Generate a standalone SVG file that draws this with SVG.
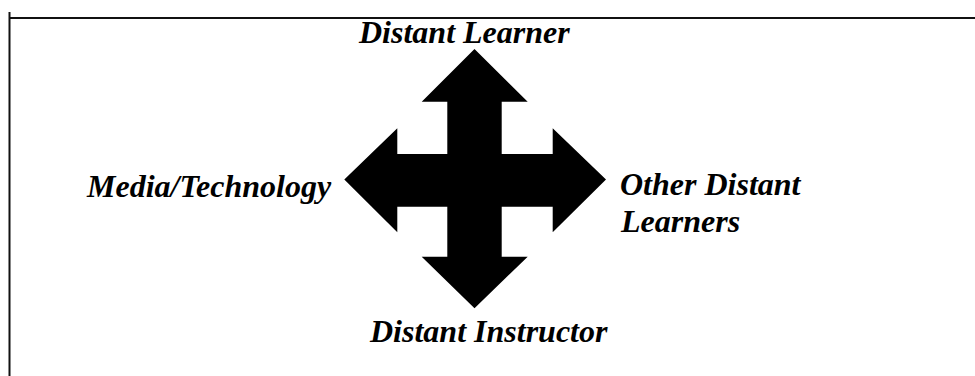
<svg xmlns="http://www.w3.org/2000/svg" width="975" height="376" viewBox="0 0 975 376">
<style>
.lbl{font-family:"Liberation Serif","Times New Roman",serif;font-weight:bold;font-style:italic;font-size:32px;fill:#000}
.frame{stroke:#111;stroke-width:2;fill:none}
</style>
<rect width="975" height="376" fill="#fff"/>
<g id="frame">
<line class="frame" x1="9" y1="18" x2="975" y2="18"/>
<line class="frame" x1="9.5" y1="12" x2="9.5" y2="376"/>
</g>
<g id="connectors">
<polygon fill="#000" points="474.5,49 527.7,101.7 501.7,101.7 501.7,154 552.7,154 552.7,128.3 606,179.5 552.7,232.3 552.7,206.7 501.7,206.7 501.7,256.7 527.7,256.7 474.5,308.3 421.7,256.7 447.3,256.7 447.3,206.7 397.3,206.7 397.3,232.3 344.3,179.5 397.3,128.3 397.3,154 447.3,154 447.3,101.7 421.7,101.7"/>
</g>
<g id="node-learner"><text class="lbl" x="359" y="43">Distant Learner</text></g>
<g id="node-media"><text class="lbl" x="87" y="197">Media/Technology</text></g>
<g id="node-others"><text class="lbl" x="620" y="195">Other Distant</text><text class="lbl" x="621" y="232">Learners</text></g>
<g id="node-instructor"><text class="lbl" x="370" y="342">Distant Instructor</text></g>
</svg>
